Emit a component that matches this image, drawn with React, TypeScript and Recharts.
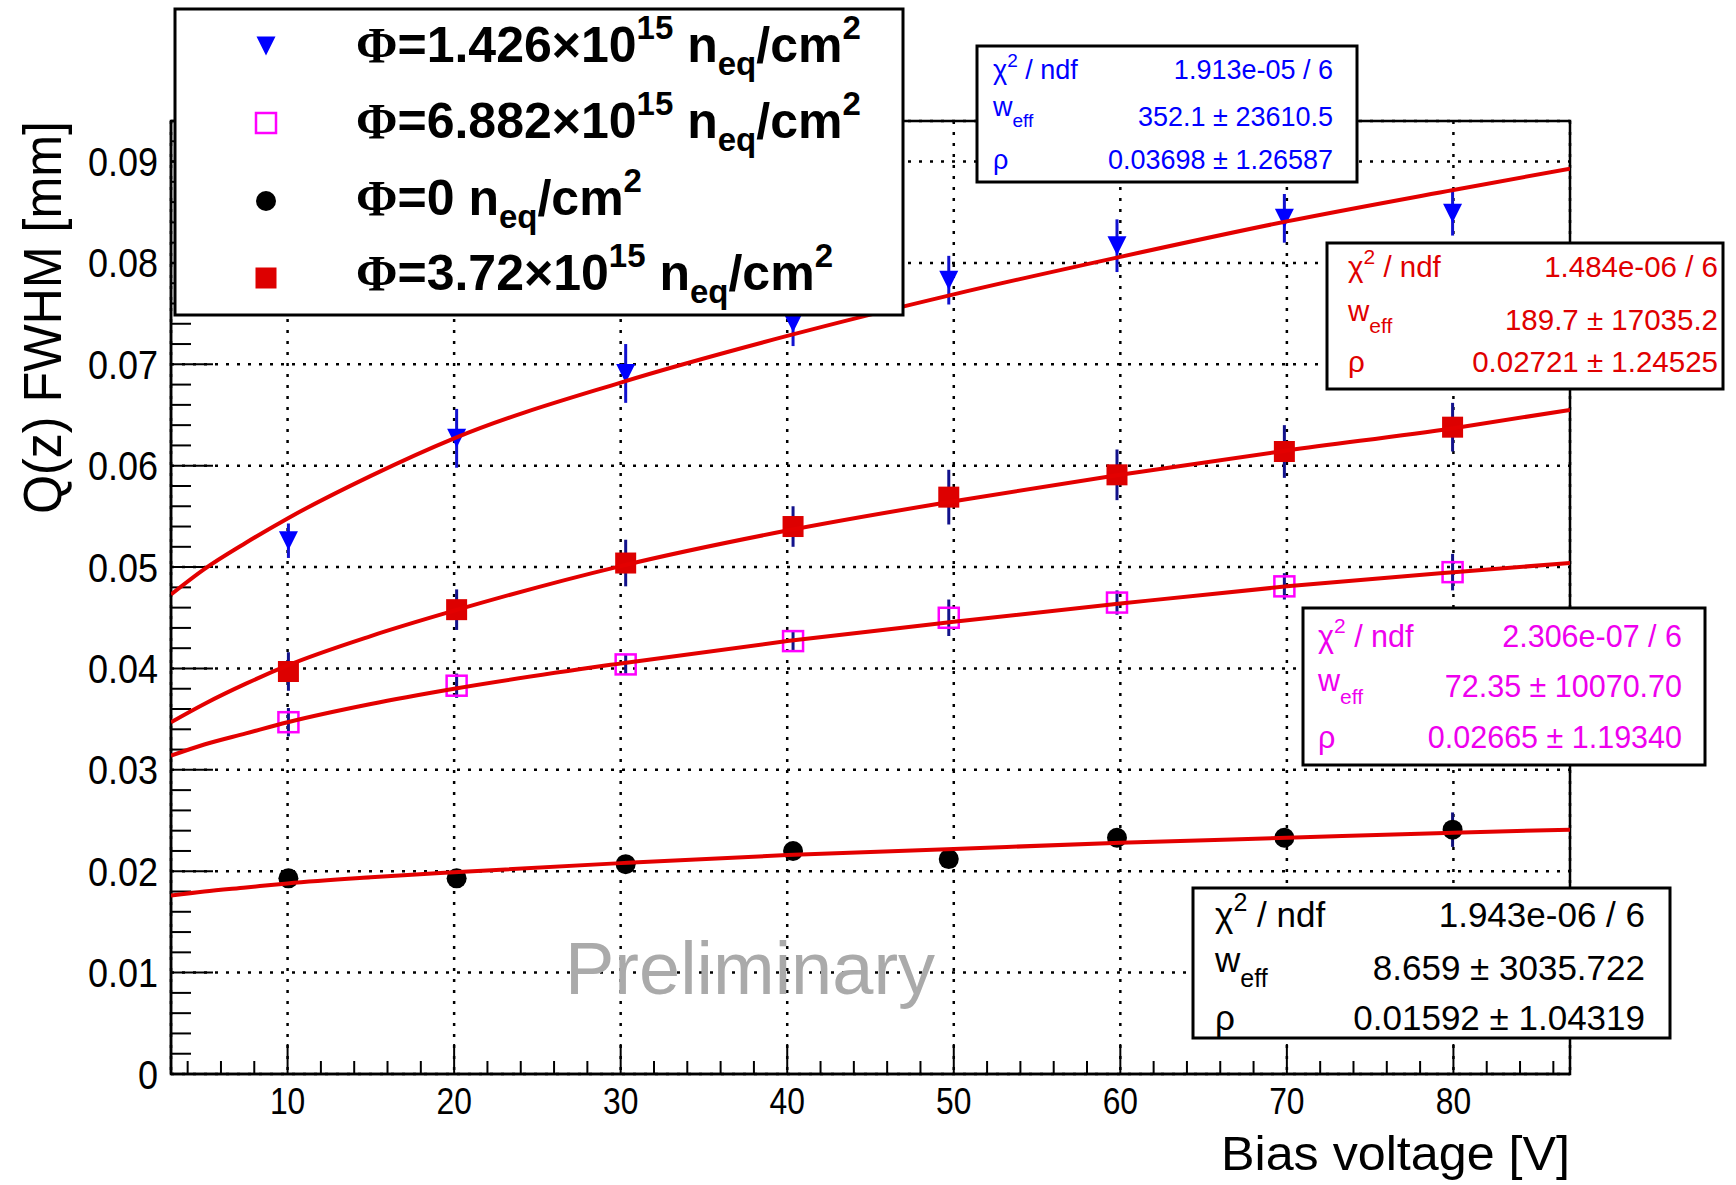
import React from 'react';
import {
  ComposedChart,
  XAxis,
  YAxis,
  CartesianGrid,
  Line,
  Scatter,
  ErrorBar,
  ReferenceArea,
  Label,
} from 'recharts';

// ---------- data ----------
const biasVoltage = [10.05, 20.15, 30.3, 40.35, 49.7, 59.8, 69.85, 79.95];

const fwhmPhi1426 = [0.0526, 0.0627, 0.0691, 0.0741, 0.0783, 0.0817, 0.0844, 0.0849];
const errPhi1426 = [0.0017, 0.0029, 0.0029, 0.0023, 0.0024, 0.0026, 0.0024, 0.0022];

const fwhmPhi6882 = [0.0347, 0.0383, 0.0404, 0.0427, 0.045, 0.0465, 0.0481, 0.0495];
const errPhi6882 = [0.0014, 0.0012, 0.001, 0.001, 0.0018, 0.0012, 0.0013, 0.0018];

const fwhmPhi0 = [0.0193, 0.0193, 0.0207, 0.022, 0.0212, 0.0233, 0.0233, 0.0241];
const errPhi0 = [0.0008, 0.0008, 0.0008, 0.0008, 0.0008, 0.0008, 0.0008, 0.0017];

const fwhmPhi372 = [0.0397, 0.0458, 0.0504, 0.054, 0.0569, 0.0591, 0.0614, 0.0638];
const errPhi372 = [0.0019, 0.002, 0.0023, 0.002, 0.0027, 0.0025, 0.0026, 0.0024];

// fit curves
const fitVoltage = [3, 5, 7.5, 10, 15, 20, 30, 40, 50, 60, 70, 80, 87];
const fitPhi1426 = [0.0473, 0.0498, 0.0524, 0.0548, 0.059, 0.0627, 0.0682, 0.0728, 0.0769, 0.0806, 0.0841, 0.0872, 0.0893];
const fitPhi372 = [0.0347, 0.0365, 0.0385, 0.0403, 0.0432, 0.0457, 0.0501, 0.0536, 0.0565, 0.0591, 0.0615, 0.0637, 0.0655];
const fitPhi6882 = [0.0314, 0.0325, 0.0336, 0.0347, 0.0365, 0.038, 0.0405, 0.0427, 0.0446, 0.0464, 0.0481, 0.0495, 0.0504];
const fitPhi0 = [0.0176, 0.018, 0.0184, 0.0188, 0.0194, 0.0199, 0.0208, 0.0216, 0.0222, 0.0228, 0.0233, 0.0238, 0.0241];

// axes
const xDomain = [3, 87];
const yDomain = [0, 0.094];
const xMajorTicks = [10, 20, 30, 40, 50, 60, 70, 80];
const xMinorTicks = [4, 6, 8, 12, 14, 16, 18, 22, 24, 26, 28, 32, 34, 36, 38, 42, 44, 46, 48, 52, 54, 56, 58, 62, 64, 66, 68, 72, 74, 76, 78, 82, 84, 86];
const yMajorTicks = [0, 0.01, 0.02, 0.03, 0.04, 0.05, 0.06, 0.07, 0.08, 0.09];
const yMinorTicks = [0.002, 0.004, 0.006, 0.008, 0.012, 0.014, 0.016, 0.018, 0.022, 0.024, 0.026, 0.028, 0.032, 0.034, 0.036, 0.038, 0.042, 0.044, 0.046, 0.048, 0.052, 0.054, 0.056, 0.058, 0.062, 0.064, 0.066, 0.068, 0.072, 0.074, 0.076, 0.078, 0.082, 0.084, 0.086, 0.088, 0.092];

const xTitle = 'Bias voltage [V]';
const yTitle = 'Q(z) FWHM [mm]';

// legend entries
const legendMantissa = ['1.426', '6.882', '0', '3.72'];

// fit statistics
const statsPhi1426 = ['1.913e-05 / 6', '352.1 \u00b1 23610.5', '0.03698 \u00b1 1.26587'];
const statsPhi372 = ['1.484e-06 / 6', '189.7 \u00b1 17035.2', '0.02721 \u00b1 1.24525'];
const statsPhi6882 = ['2.306e-07 / 6', '72.35 \u00b1 10070.70', '0.02665 \u00b1 1.19340'];
const statsPhi0 = ['1.943e-06 / 6', '8.659 \u00b1 3035.722', '0.01592 \u00b1 1.04319'];

// ---------- build tables ----------
const pts = (ys: number[], es: number[]) => biasVoltage.map((x, i) => ({ x, y: ys[i], err: es[i] }));
const fit = (ys: number[]) => fitVoltage.map((x, i) => ({ x, y: ys[i] }));

const FONT = 'Liberation Sans, Arial, Helvetica, sans-serif';
const BLUE = '#0000ff';
const RED = '#e00000';
const MAGENTA = '#ee00ee';
const FITRED = '#e30000';

// ---------- markers ----------
const TriangleDown = (p: any) => (
  <polygon points={`${p.cx - 9.5},${p.cy - 9.5} ${p.cx + 9.5},${p.cy - 9.5} ${p.cx},${p.cy + 9.5}`} fill={BLUE} />
);
const OpenSquare = (p: any) => (
  <rect x={p.cx - 10} y={p.cy - 10} width={20} height={20} fill="none" stroke="#ff00ff" strokeWidth={2.5} />
);
const FilledCircle = (p: any) => <circle cx={p.cx} cy={p.cy} r={10} fill="#000" />;
const FilledSquare = (p: any) => <rect x={p.cx - 10.5} y={p.cy - 10.5} width={21} height={21} fill="#dd0000" />;

// ---------- ticks ----------
const EmptyTick = () => <g />;
const XTick = (p: any) => (
  <g transform={`translate(${p.x},${p.y + 40})`}>
    <text transform="scale(0.86,1)" textAnchor="middle" fontFamily={FONT} fontSize={37} fill="#000">
      {p.payload.value}
    </text>
  </g>
);
const YTick = (p: any) => {
  const v = p.payload.value;
  const s = v === 0 ? '0' : Number(v).toFixed(2);
  return (
    <g transform={`translate(${p.x - 13},${p.y + 14.5})`}>
      <text transform="scale(0.9,1)" textAnchor="end" fontFamily={FONT} fontSize={40} fill="#000">
        {s}
      </text>
    </g>
  );
};

const XTitle = (p: any) => {
  const vb = p.viewBox || { x: 171, y: 1074, width: 1399, height: 0 };
  return (
    <text x={vb.x + vb.width} y={vb.y + 96} textAnchor="end" fontFamily={FONT} fontSize={49} textLength={349} lengthAdjust="spacingAndGlyphs" fill="#000">
      {xTitle}
    </text>
  );
};
const YTitle = (p: any) => {
  const vb = p.viewBox || { x: 170, y: 121, width: 1, height: 953 };
  return (
    <text transform={`translate(${vb.x + vb.width - 110},${vb.y}) rotate(-90)`} textAnchor="end" fontFamily={FONT} fontSize={54} textLength={393} lengthAdjust="spacingAndGlyphs" fill="#000">
      {yTitle}
    </text>
  );
};

// ---------- overlay pieces ----------
const LegendRow = ({ y, mantissa, marker }: { y: number; mantissa: string; marker: React.ReactNode }) => {
  const hasExp = mantissa !== '0';
  return (
    <g>
      {marker}
      <text x={356} y={y} fontFamily={FONT} fontWeight="bold" fontSize={50} fill="#000">
        <tspan fontFamily="Liberation Serif, serif" fontWeight="bold">{'\u03a6'}</tspan>
        {'=' + mantissa + (hasExp ? '\u00d710' : '')}
        {hasExp ? <tspan fontSize={33} dy={-23}>15</tspan> : null}
        <tspan dy={hasExp ? 23 : 0}>{'\u00a0n'}</tspan>
        <tspan fontSize={33} dy={13}>eq</tspan>
        <tspan dy={-13}>/cm</tspan>
        <tspan fontSize={33} dy={-23}>2</tspan>
      </text>
    </g>
  );
};

type StatProps = {
  x: number; y: number; w: number; h: number; color: string; fs: number;
  lx: number; rx: number; base: number[]; wBase: number; values: string[];
};
const StatBox = ({ x, y, w, h, color, fs, lx, rx, base, wBase, values }: StatProps) => {
  const small = Math.round(fs * 0.7);
  return (
    <g fontFamily={FONT} fill={color}>
      <rect x={x} y={y} width={w} height={h} fill="#fff" stroke="#000" strokeWidth={3} />
      <text x={lx} y={base[0]} fontSize={fs}>
        {'\u03c7'}
        <tspan fontSize={small} dy={-fs * 0.45}>2</tspan>
        <tspan dy={fs * 0.45}>{'\u00a0/ ndf'}</tspan>
      </text>
      <text x={lx} y={wBase} fontSize={fs}>
        w<tspan fontSize={small} dy={fs * 0.42}>eff</tspan>
      </text>
      <text x={lx} y={base[2]} fontSize={fs}>{'\u03c1'}</text>
      {values.map((v, i) => (
        <text key={i} x={rx} y={base[i]} fontSize={fs} textAnchor="end">{v}</text>
      ))}
    </g>
  );
};

const Overlay = () => (
  <svg width={1736} height={1185} style={{ position: 'absolute', left: 0, top: 0, pointerEvents: 'none' }}>
    <text x={565} y={994} fontFamily={FONT} fontSize={74} fill="#aaaaaa">Preliminary</text>

    <StatBox x={977} y={46} w={380} h={136} color={BLUE} fs={27} lx={993} rx={1333} base={[79, 126, 169]} wBase={116} values={statsPhi1426} />
    <StatBox x={1327} y={243} w={396} h={146} color={RED} fs={29.5} lx={1348} rx={1718} base={[277, 330, 372]} wBase={321} values={statsPhi372} />
    <StatBox x={1303} y={608} w={402} h={157} color={MAGENTA} fs={30.5} lx={1318} rx={1682} base={[647, 697, 748]} wBase={691} values={statsPhi6882} />
    <StatBox x={1193} y={888} w={477} h={150} color="#000" fs={35} lx={1215} rx={1645} base={[927, 980, 1030]} wBase={972} values={statsPhi0} />

    <rect x={175} y={9} width={728} height={306} fill="#fff" stroke="#000" strokeWidth={3} />
    <LegendRow y={62} mantissa={legendMantissa[0]} marker={<TriangleDown cx={266} cy={46} />} />
    <LegendRow y={138} mantissa={legendMantissa[1]} marker={<OpenSquare cx={266} cy={123} />} />
    <LegendRow y={215} mantissa={legendMantissa[2]} marker={<FilledCircle cx={266} cy={201} />} />
    <LegendRow y={290} mantissa={legendMantissa[3]} marker={<FilledSquare cx={266} cy={278} />} />
  </svg>
);

export default function App() {
  return (
    <div style={{ position: 'absolute', left: 0, top: 0, width: 1736, height: 1185, background: '#fff' }}>
      <ComposedChart width={1736} height={1185} margin={{ top: 121, right: 166, bottom: 109, left: 169 }}>
        <CartesianGrid stroke="#000" strokeWidth={2.5} strokeDasharray="3 8" />
        <XAxis
          dataKey="x" type="number" domain={xDomain} allowDataOverflow ticks={xMajorTicks} interval={0}
          height={1} tickSize={-30} tickMargin={30} tick={<XTick />}
          axisLine={{ stroke: '#000', strokeWidth: 2.5 }} tickLine={{ stroke: '#000', strokeWidth: 2 }}
        >
          <Label content={<XTitle />} />
        </XAxis>
        <XAxis
          xAxisId="mx" dataKey="x" type="number" domain={xDomain} allowDataOverflow ticks={xMinorTicks} interval={0}
          height={1} tickSize={-14} tick={<EmptyTick />} axisLine={false} tickLine={{ stroke: '#000', strokeWidth: 2 }}
        />
        <YAxis
          dataKey="y" type="number" domain={yDomain} allowDataOverflow ticks={yMajorTicks} interval={0}
          width={1} tickSize={-42} tickMargin={42} tick={<YTick />}
          axisLine={{ stroke: '#000', strokeWidth: 2.5 }} tickLine={{ stroke: '#000', strokeWidth: 2 }}
        >
          <Label content={<YTitle />} />
        </YAxis>
        <YAxis
          yAxisId="my" dataKey="y" type="number" domain={yDomain} allowDataOverflow ticks={yMinorTicks} interval={0}
          width={1} tickSize={-21} tick={<EmptyTick />} axisLine={false} tickLine={{ stroke: '#000', strokeWidth: 2 }}
        />
        <ReferenceArea x1={3} x2={87} y1={0} y2={0.094} fill="none" fillOpacity={0} stroke="#000" strokeWidth={2.5} />

        <Scatter name="phi1426" data={pts(fwhmPhi1426, errPhi1426)} dataKey="y" shape={TriangleDown} isAnimationActive={false}>
          <ErrorBar dataKey="err" direction="y" width={0} stroke="#1212d0" strokeWidth={3} isAnimationActive={false} />
        </Scatter>
        <Scatter name="phi6882" data={pts(fwhmPhi6882, errPhi6882)} dataKey="y" shape={OpenSquare} isAnimationActive={false}>
          <ErrorBar dataKey="err" direction="y" width={0} stroke="#14148c" strokeWidth={3} isAnimationActive={false} />
        </Scatter>
        <Scatter name="phi0" data={pts(fwhmPhi0, errPhi0)} dataKey="y" shape={FilledCircle} isAnimationActive={false}>
          <ErrorBar dataKey="err" direction="y" width={0} stroke="#10107a" strokeWidth={3} isAnimationActive={false} />
        </Scatter>
        <Scatter name="phi372" data={pts(fwhmPhi372, errPhi372)} dataKey="y" shape={FilledSquare} isAnimationActive={false}>
          <ErrorBar dataKey="err" direction="y" width={0} stroke="#12128c" strokeWidth={3} isAnimationActive={false} />
        </Scatter>

        <Line data={fit(fitPhi1426)} dataKey="y" type="monotone" stroke={FITRED} strokeWidth={4} dot={false} activeDot={false} isAnimationActive={false} {...({ zIndex: 700 } as any)} />
        <Line data={fit(fitPhi372)} dataKey="y" type="monotone" stroke={FITRED} strokeWidth={4} dot={false} activeDot={false} isAnimationActive={false} {...({ zIndex: 700 } as any)} />
        <Line data={fit(fitPhi6882)} dataKey="y" type="monotone" stroke={FITRED} strokeWidth={4} dot={false} activeDot={false} isAnimationActive={false} {...({ zIndex: 700 } as any)} />
        <Line data={fit(fitPhi0)} dataKey="y" type="monotone" stroke={FITRED} strokeWidth={4} dot={false} activeDot={false} isAnimationActive={false} {...({ zIndex: 700 } as any)} />
      </ComposedChart>
      <Overlay />
    </div>
  );
}
